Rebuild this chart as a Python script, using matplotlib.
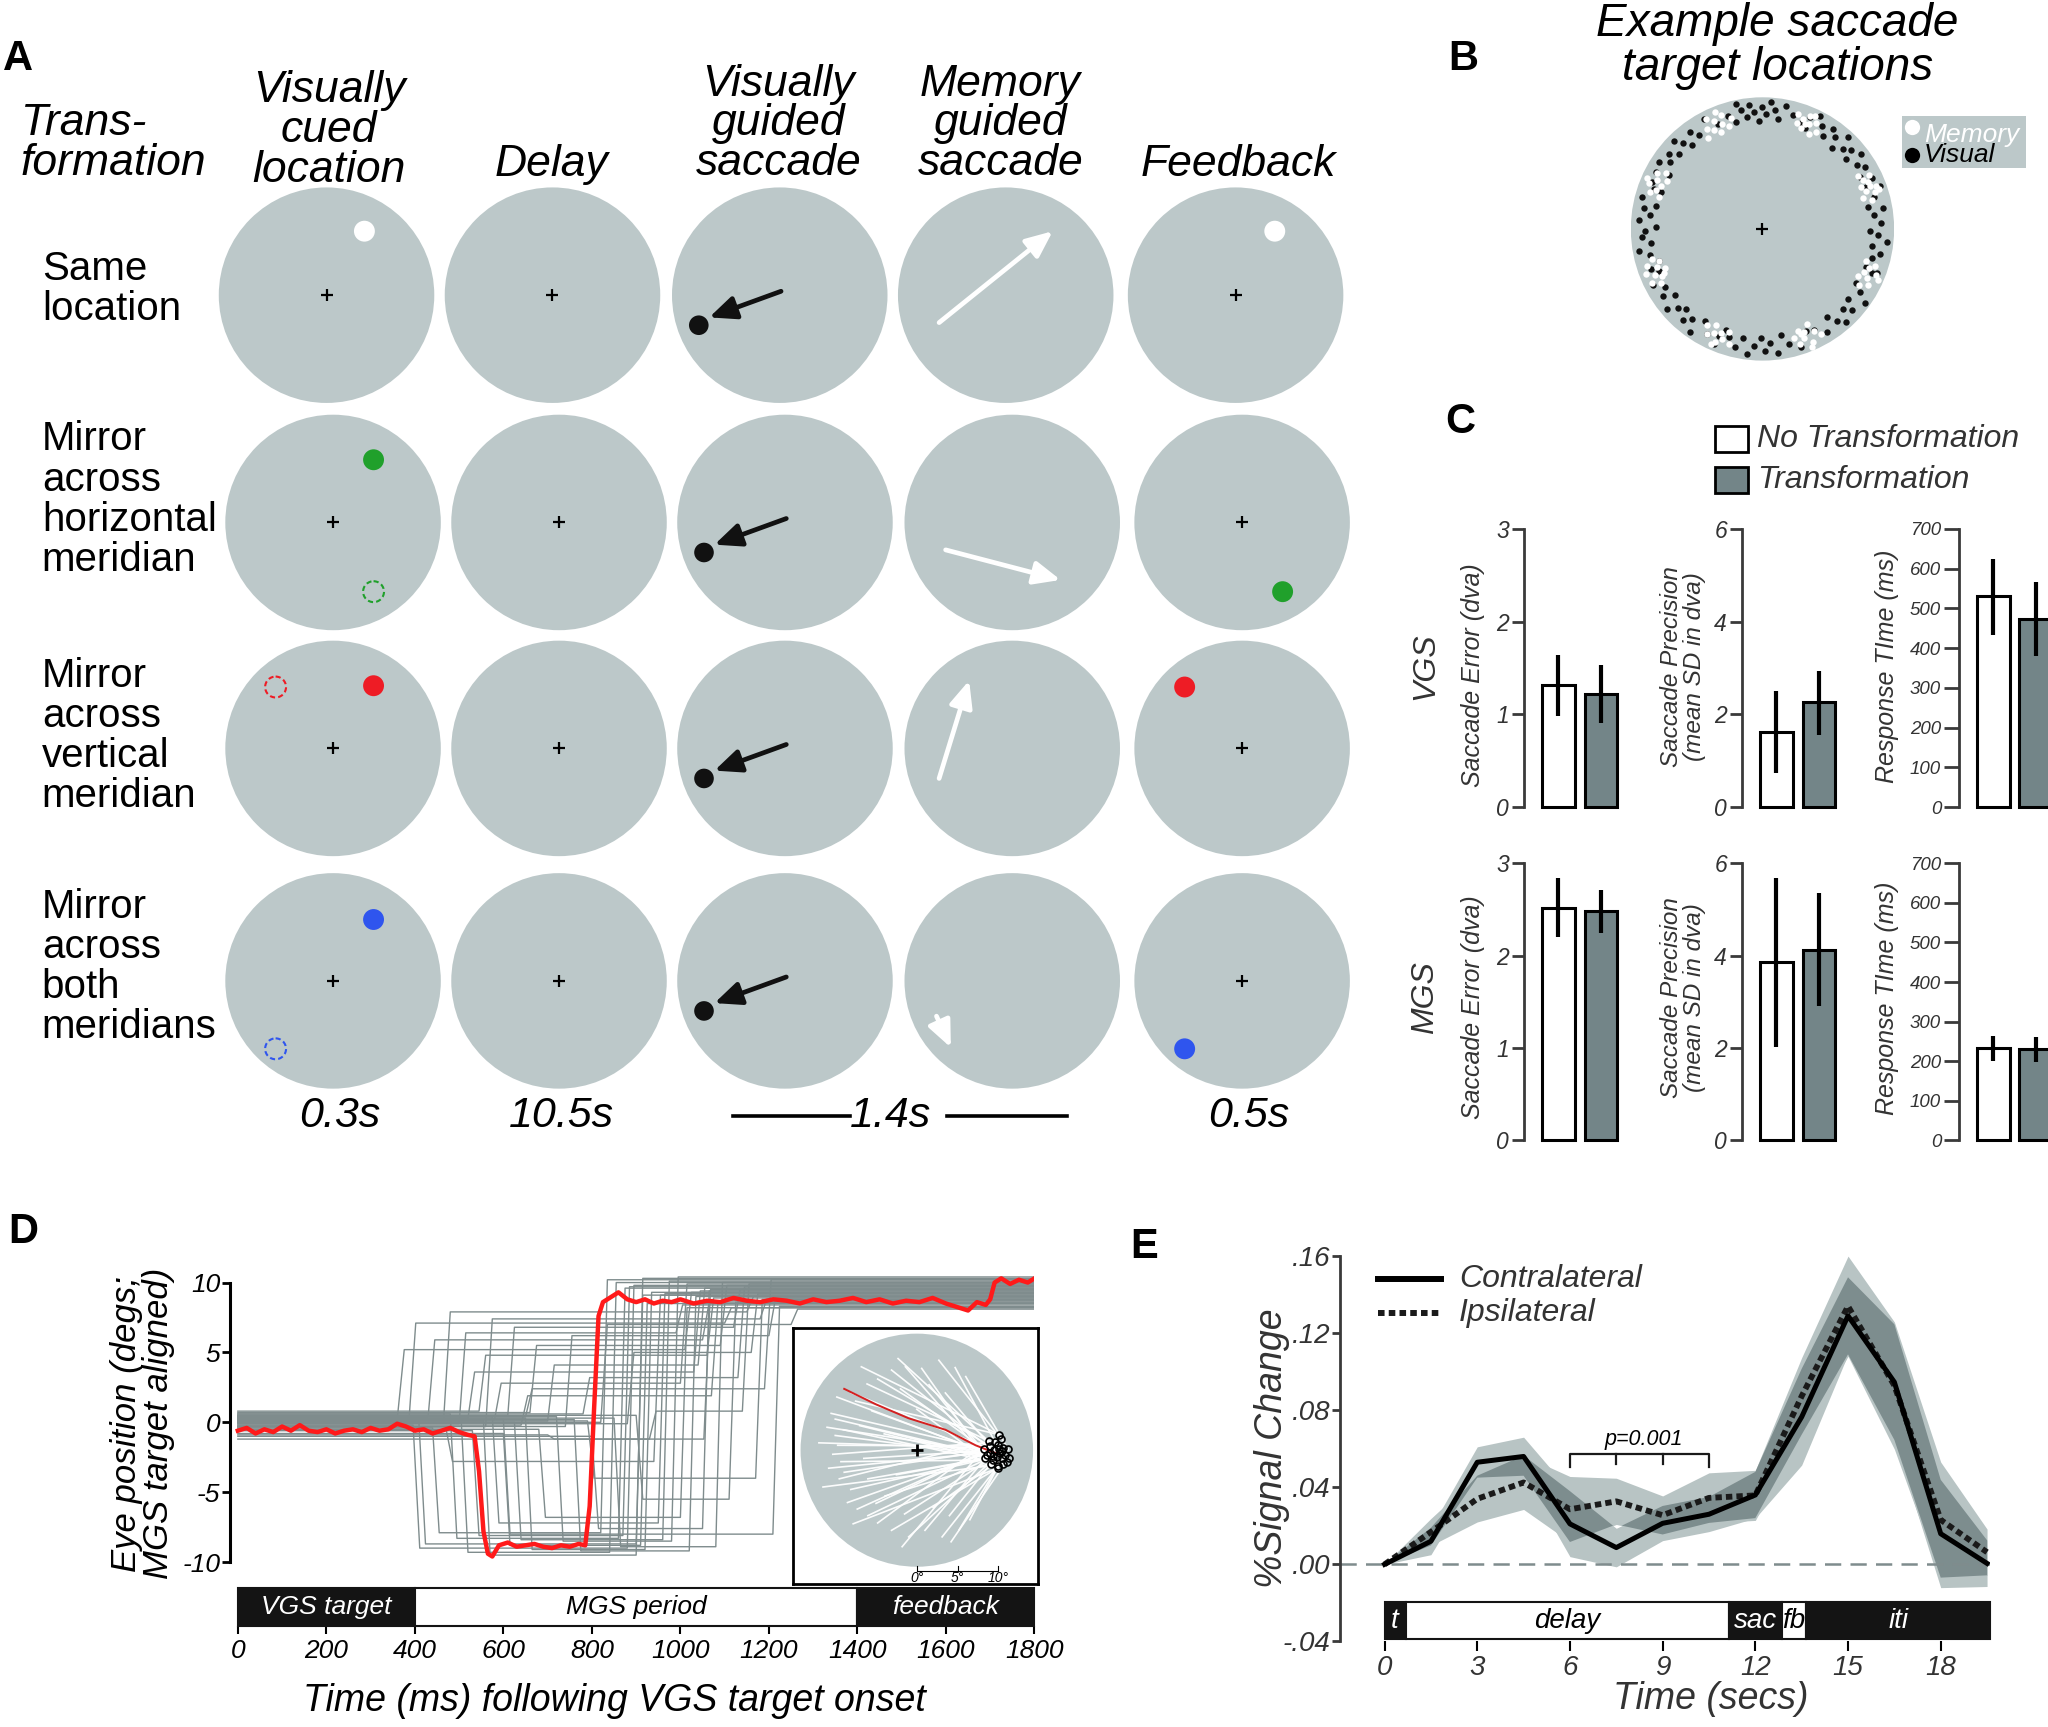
import numpy as np
import matplotlib
matplotlib.use('Agg')
import matplotlib.pyplot as plt
from matplotlib.patches import Circle, Rectangle

plt.rcParams['font.family'] = ['Liberation Sans', 'DejaVu Sans']

# ---------------- panel C values (no transformation, transformation) ----------------
vgs_error = [1.32, 1.22]
vgs_error_lo = [0.98, 0.91]
vgs_error_hi = [1.64, 1.53]
vgs_prec = [1.63, 2.26]
vgs_prec_lo = [0.74, 1.55]
vgs_prec_hi = [2.51, 2.93]
vgs_rt = [531, 473]
vgs_rt_lo = [434, 380]
vgs_rt_hi = [625, 566]
mgs_error = [2.52, 2.48]
mgs_error_lo = [2.20, 2.25]
mgs_error_hi = [2.84, 2.71]
mgs_prec = [3.86, 4.13]
mgs_prec_lo = [2.02, 2.90]
mgs_prec_hi = [5.69, 5.36]
mgs_rt = [233, 230]
mgs_rt_lo = [201, 198]
mgs_rt_hi = [263, 262]

# ---------------- panel D traces ----------------
# gray trials: baseline, first saccade (time, level), corrective saccade (time, level)
trial_base = [0.3, 0.5, -0.2, 0.1, 0.4, -0.4, 0.2, 0.6, -0.1, 0.0, 0.3, -0.6, 0.8, 0.1, -0.3, 0.4, 0.2, -0.8, 0.5, 0.0,
              -0.2, 0.3, 0.7, -0.5, 0.1, 0.4, -0.3, 0.2, 0.6, -1.0, 0.0, 0.3, -0.1, 0.5, -1.2, 0.2, -0.9, 0.4, 0.1, -0.4]
trial_t1 = [387, 361, 396, 409, 430, 440, 465, 480, 500, 505, 520, 530, 545, 555, 560, 575, 580, 600, 610, 625,
            640, 650, 660, 680, 700, 720, 740, 760, 780, 800, 820, 850, 880, 900, 930, 600, 700, 650, 790, 470]
trial_y1 = [7.1, 5.2, -9.0, -8.7, 5.9, -7.9, 7.9, -8.3, 6.4, -9.3, 3.6, -8.1, 4.8, -9.5, 7.4, -7.2, 2.8, -8.8, 6.8, -8.4,
            1.9, -9.1, 5.5, -6.8, 4.1, -8.5, 6.2, -9.2, 3.2, -7.6, 7.0, -8.9, 5.0, -5.5, 0.8, -8.0, -1.2, 2.4, -4.0, -2.8]
trial_t2 = [1100, 1010, 880, 900, 1050, 820, 1150, 860, 990, 840, 1030, 870, 1060, 900, 1180, 950, 1000, 910, 1120, 960,
            1070, 920, 1090, 1000, 1040, 980, 1200, 1020, 1130, 1050, 1250, 1080, 1160, 1110, 1140, 1209, 1053, 1190, 1170, 940]
trial_y2 = [8.2, 9.3, 9.8, 9.1, 8.6, 10.2, 9.0, 9.6, 8.4, 10.0, 9.4, 9.7, 8.9, 10.3, 8.8, 9.2, 9.9, 8.5, 9.5, 10.1,
            8.7, 9.3, 9.8, 8.2, 9.6, 10.4, 8.9, 9.0, 9.7, 9.4, 8.1, 10.0, 9.2, 8.6, 9.9, 8.3, 9.5, 10.2, 8.8, 9.1]

# highlighted (red) trial
red_t = [0, 20, 40, 60, 80, 100, 120, 140, 160, 180,
         200, 220, 240, 260, 280, 300, 320, 340, 360, 380,
         400, 420, 440, 460, 480, 500, 520, 535, 545, 555,
         565, 575, 590, 610, 630, 650, 670, 690, 710, 730,
         750, 770, 785, 795, 805, 815, 825, 840, 860, 880,
         900, 920, 940, 960, 980, 1000, 1030, 1060, 1090, 1120,
         1150, 1180, 1210, 1240, 1270, 1300, 1330, 1360, 1390, 1420,
         1450, 1480, 1510, 1540, 1570, 1600, 1630, 1650, 1670, 1690,
         1700, 1710, 1725, 1745, 1765, 1785, 1800]
red_y = [-0.6, -0.4, -0.8, -0.5, -0.7, -0.3, -0.6, -0.2, -0.6, -0.7,
         -0.5, -0.8, -0.6, -0.5, -0.7, -0.4, -0.6, -0.5, -0.1, -0.3,
         -0.6, -0.5, -0.8, -0.6, -0.4, -0.7, -0.9, -1.0, -3.5, -7.8,
         -9.4, -9.6, -8.8, -8.6, -8.9, -8.8, -8.7, -8.9, -9.0, -8.8,
         -8.9, -8.7, -8.8, -6.0, 1.0, 7.6, 8.6, 8.9, 9.3, 8.8,
         8.6, 8.8, 8.5, 8.7, 8.6, 8.8, 8.5, 8.7, 8.6, 8.9,
         8.7, 8.6, 8.8, 8.7, 8.5, 8.8, 8.6, 8.7, 8.9, 8.6,
         8.8, 8.5, 8.7, 8.6, 8.9, 8.5, 8.2, 8.0, 8.6, 8.4,
         8.8, 10.0, 10.3, 9.9, 10.2, 10.0, 10.3]

# inset: saccade start points and endpoints (deg)
traj_start = [(-10.5, 4.5), (-10.0, 3.8), (-9.7, 0.6), (-9.3, -1.4), (-8.9, -2.7), (-8.1, -4.8), (-7.3, -7.2),
              (-6.0, -8.0), (-5.5, 4.8), (-6.1, 8.1), (-4.8, 8.7), (-3.1, 9.8), (-1.4, 10.2), (0.6, 10.0),
              (2.7, 11.0), (4.7, 10.1), (5.2, -9.7), (3.1, -10.6), (1.0, -9.8), (-1.0, -10.6), (-3.1, -9.8),
              (-4.8, -8.9), (-3.9, -5.6), (-8.5, -6.4), (-10.0, 1.8), (-9.0, 2.5), (-7.5, 6.0), (-2.0, 7.5),
              (1.5, 8.0), (3.5, 7.0), (-4.0, 2.0), (-6.5, -1.0), (-2.5, -3.0), (-5.0, -6.5), (-1.5, -7.8),
              (2.0, -7.0), (4.0, -8.0), (-8.0, 7.0), (-7.0, 3.0), (0.0, 5.0), (-6.0, -3.5), (-9.5, -3.5),
              (-10.3, -0.5), (6.0, 9.0), (6.5, -8.5), (-11.0, 2.8), (-10.8, -2.2), (-7.8, -9.0), (-2.3, 11.2),
              (4.2, -11.2), (-12.0, 0.9), (-9.8, 6.5), (-11.5, -4.5), (-6.8, 10.2), (-1.8, -11.8)]
traj_end = [(8.2, 0.2), (8.6, -0.6), (9.0, 0.5), (9.3, -1.2), (9.5, 0.0), (9.8, -0.8), (10.0, 0.6), (10.2, -0.3),
            (10.4, -1.0), (10.6, 0.3), (10.8, -0.6), (11.0, -1.4), (9.1, -1.7), (8.4, -1.0), (10.3, 1.4),
            (9.6, 1.0), (11.2, 0.1), (10.0, -1.9), (9.0, -0.3), (10.5, -0.1), (9.9, -2.2), (8.8, 1.1),
            (11.3, -0.9), (10.1, 0.2), (9.4, -0.7), (10.6, -1.7), (10.1, 1.9)]
red_path_x = [-8.9, -5.0, -1.0, 3.5, 7.2, 10.0]
red_path_y = [7.5, 5.6, 3.9, 2.5, 0.6, -0.5]

# ---------------- panel E ----------------
e_time = [0, 1.5, 3, 4.5, 6, 7.5, 9, 10.5, 12, 13.5, 15, 16.5, 18, 19.5]
contra = [0.0, 0.012, 0.053, 0.056, 0.021, 0.0087, 0.0213, 0.026, 0.036, 0.0765, 0.129, 0.0946, 0.0159, 0.0005]
contra_se = [0.0, 0.007, 0.008, 0.010, 0.017, 0.010, 0.009, 0.009, 0.012, 0.025, 0.020, 0.030, 0.028, 0.012]
ipsi = [0.0, 0.0168, 0.034, 0.0425, 0.0286, 0.0327, 0.0255, 0.0345, 0.0358, 0.0873, 0.134, 0.0928, 0.0231, 0.0063]
ipsi_se = [0.0, 0.007, 0.012, 0.014, 0.017, 0.012, 0.010, 0.013, 0.013, 0.020, 0.026, 0.033, 0.030, 0.012]

d_phase = ['VGS target', 'MGS period', 'feedback']
d_edges = [0, 400, 1400, 1800]
e_phase = ['t', 'delay', 'sac', 'fb', 'iti']
e_edges = [0, 0.68, 11.15, 12.85, 13.65, 19.6]

# ---------------- panel B target locations (angle deg, radius fraction) ----------------
memory_pts = [(15, .86), (17, .80), (18, .90), (20, .84), (21, .92), (23, .81), (24, .88), (26, .85), (27, .91), (29, .83), (22, .88), (19, .94),
              (61, .84), (63, .90), (64, .80), (66, .87), (67, .93), (69, .82), (70, .89), (72, .85), (73, .91), (65, .95), (68, .86),
              (106, .88), (108, .82), (110, .92), (111, .85), (113, .80), (114, .90), (116, .84), (117, .94), (119, .87), (121, .81), (112, .96),
              (150, .85), (152, .91), (153, .81), (155, .88), (157, .84), (158, .93), (160, .86), (162, .90), (163, .82), (156, .96),
              (195, .87), (197, .82), (198, .92), (200, .85), (202, .80), (203, .89), (205, .84), (206, .93), (208, .87), (201, .95), (204, .82),
              (240, .84), (242, .90), (244, .81), (245, .87), (247, .93), (248, .85), (250, .89), (252, .82), (254, .91), (246, .96),
              (286, .86), (288, .92), (289, .82), (291, .89), (292, .84), (294, .94), (295, .80), (297, .87), (299, .91), (293, .97), (290, .85),
              (330, .85), (332, .91), (334, .81), (335, .88), (337, .84), (338, .93), (340, .86), (342, .90), (343, .82), (336, .96)]
visual_pts = [(3, .90), (7, .85), (10, .93), (12, .82), (16, .88), (20, .95), (28, .84), (31, .91), (34, .87), (37, .94),
              (40, .83), (42, .90), (45, .86), (47, .95), (49, .81), (52, .89), (55, .93), (57, .84), (60, .90), (63, .96),
              (67, .92), (70, .86), (75, .90), (79, .95), (82, .84), (84, .91), (86, .97), (88, .87), (90, .93), (92, .82),
              (94, .89), (96, .95), (98, .86), (100, .92), (102, .97), (104, .84), (107, .90), (118, .95), (124, .86), (127, .92),
              (130, .83), (133, .89), (135, .95), (138, .85), (141, .91), (144, .87), (147, .94), (150, .82), (152, .92), (160, .88),
              (165, .95), (168, .83), (170, .91), (173, .86), (176, .94), (179, .81), (181, .89), (184, .92), (187, .85), (190, .95),
              (193, .88), (197, .82), (207, .93), (211, .86), (214, .91), (217, .83), (220, .95), (223, .88), (226, .84), (229, .92),
              (232, .87), (235, .96), (238, .82), (242, .90), (247, .95), (253, .86), (257, .92), (260, .84), (263, .96), (266, .89),
              (269, .83), (271, .93), (274, .87), (277, .95), (280, .82), (283, .90), (288, .94), (297, .86), (302, .92), (306, .83),
              (309, .90), (312, .95), (315, .86), (318, .92), (321, .84), (324, .96), (327, .88), (330, .82), (339, .93), (345, .86),
              (348, .91), (351, .84), (354, .95), (357, .88), (359, .82), (22, .85), (67, .83), (113, .87), (157, .91), (202, .85),
              (248, .88), (293, .84), (338, .90), (25, .92), (200, .90), (160, .82), (340, .84), (250, .82)]

# ---------------- layout helpers ----------------
circ_col = '#bcc8c9'
bar_gray = '#738588'
trace_gray = '#7f8c8d'
text_gray = '#333333'

W0 = 1568.0
H0 = W0 * 1727 / 2048


def box(x0, y0, x1, y1):
    return [x0 / W0, 1 - y1 / H0, (x1 - x0) / W0, (y1 - y0) / H0]


fig = plt.figure(figsize=(20.48, 17.27), dpi=100)
base = fig.add_axes([0, 0, 1, 1])
base.set_xlim(0, W0)
base.set_ylim(H0, 0)
base.axis('off')


def btext(x, y, s, size, style='italic', **kw):
    kw.setdefault('ha', 'center')
    kw.setdefault('va', 'center')
    base.text(x, y, s, fontsize=size, fontstyle=style, **kw)


# panel letters
for lab, x, y in [('A', 14, 45), ('B', 1120, 45), ('C', 1118, 323), ('D', 18, 943), ('E', 876, 955)]:
    btext(x, y, lab, 30, style='normal', fontweight='bold')

# ================= panel A =================
# each header is one multi-line text; y is the baseline of its last line
heads = [(16, 'Trans-\nformation', 134, 'left'),
         (252, 'Visually\ncued\nlocation', 139, 'center'),
         (422, 'Delay', 135, 'center'),
         (596, 'Visually\nguided\nsaccade', 134, 'center'),
         (766, 'Memory\nguided\nsaccade', 134, 'center'),
         (948, 'Feedback', 135, 'center')]
for x, s, y, ha in heads:
    btext(x, y, s, 32, ha=ha, va='baseline', multialignment=ha, linespacing=0.96)

row_labels = [('Same\nlocation', 245),
              ('Mirror\nacross\nhorizontal\nmeridian', 437),
              ('Mirror\nacross\nvertical\nmeridian', 618),
              ('Mirror\nacross\nboth\nmeridians', 795)]
for s, y in row_labels:
    btext(32, y, s, 29, style='normal', ha='left', va='baseline', linespacing=1.07)

a_row_y = [226, 400, 573, 751]
a_col_x = [[250, 423, 597, 770, 946], [255, 428, 601, 775, 951],
           [255, 428, 601, 775, 951], [255, 428, 601, 775, 951]]
cue_color = ['white', '#20a02b', '#ee1c25', '#2f55ee']
cue_dx = [29, 31, 31, 31]
cue_dy = [-49, -48, -48, -47]
mirror_dx = [None, 31, -44, -44]
mirror_dy = [None, 53, -47, 52]
fb_dx = [30, 31, -44, -44]
fb_dy = [-49, 53, -47, 52]
mgs_tail = [(-51, 21), (-51, 21), (-56, 23), (-58, 27)]
mgs_head = [(36, -49), (37, 44), (-33, -52), (-47, 51)]

for r in range(4):
    cy = a_row_y[r]
    xs = a_col_x[r]
    for c in range(5):
        base.add_patch(Circle((xs[c], cy), 82.5, color=circ_col, lw=0))
    for c in (0, 1, 4):
        base.plot(xs[c], cy, marker='+', ms=8, mew=1.6, color='black')
    # cue
    base.add_patch(Circle((xs[0] + cue_dx[r], cy + cue_dy[r]), 8, color=cue_color[r], lw=0))
    if mirror_dx[r] is not None:
        base.add_patch(Circle((xs[0] + mirror_dx[r], cy + mirror_dy[r]), 8, fill=False,
                              ec=cue_color[r], lw=1.5, ls=(0, (2.5, 1.5))))
    # visually guided saccade
    base.add_patch(Circle((xs[2] - 62, cy + 23), 7.5, color='#111111', lw=0))
    base.annotate('', xy=(xs[2] - 54, cy + 17), xytext=(xs[2] + 1, cy - 3),
                  arrowprops=dict(arrowstyle='-|>,head_length=0.8,head_width=0.35', color='#111111',
                                  lw=3.4, shrinkA=0, shrinkB=0, mutation_scale=20))
    # memory guided saccade
    tx, ty = mgs_tail[r]
    hx, hy = mgs_head[r]
    base.annotate('', xy=(xs[3] + hx, cy + hy), xytext=(xs[3] + tx, cy + ty),
                  arrowprops=dict(arrowstyle='-|>,head_length=0.8,head_width=0.35', color='white',
                                  lw=3.4, shrinkA=0, shrinkB=0, mutation_scale=20))
    # feedback
    base.add_patch(Circle((xs[4] + fb_dx[r], cy + fb_dy[r]), 8, color=cue_color[r], lw=0))

for x, s in [(260, '0.3s'), (430, '10.5s'), (682, '1.4s'), (956, '0.5s')]:
    btext(x, 863, s, 31, va='baseline')
base.plot([561, 651], [854.5, 854.5], color='black', lw=2.6)
base.plot([725, 817], [854.5, 854.5], color='black', lw=2.6)

# ================= panel B =================
btext(1361, 61, 'Example saccade\ntarget locations', 33, va='baseline', linespacing=1.0)
b_cx, b_cy, b_R = 1349.4, 175.3, 100.8
ax_b = fig.add_axes(box(b_cx - b_R, b_cy - b_R, b_cx + b_R, b_cy + b_R))
ax_b.set_xlim(-1, 1)
ax_b.set_ylim(-1, 1)
ax_b.axis('off')
ax_b.add_patch(Circle((0, 0), 1, color=circ_col, lw=0))
for pts, col in [(visual_pts, '#111111'), (memory_pts, 'white')]:
    ang = np.radians([p[0] for p in pts])
    rad = np.array([p[1] for p in pts])
    ax_b.plot(rad * np.cos(ang), rad * np.sin(ang), 'o', ms=4.6, mew=0, color=col)
ax_b.plot(0, 0, marker='+', ms=8, mew=1.6, color='black')

base.add_patch(Rectangle((1456, 88.6), 95, 39.8, color=circ_col, lw=0))
base.plot(1464, 97.5, 'o', ms=11, mew=0, color='white')
base.plot(1463.5, 118.5, 'o', ms=11, mew=0, color='black')
btext(1473, 108.5, 'Memory', 19, ha='left', va='baseline', color='white')
btext(1473, 124, 'Visual', 19, ha='left', va='baseline', color='black')

# ================= panel C =================
base.add_patch(Rectangle((1313, 326), 25, 20, fc='white', ec='black', lw=2))
base.add_patch(Rectangle((1313, 357.5), 25, 20, fc=bar_gray, ec='black', lw=2))
btext(1345, 336, 'No Transformation', 23, ha='left', color=text_gray)
btext(1345, 367.5, 'Transformation', 23, ha='left', color=text_gray)
btext(1091, 510, 'VGS', 23, rotation=90, color=text_gray)
btext(1091, 764, 'MGS', 23, rotation=90, color=text_gray)

c_spine_x = [1167, 1334, 1500]
c_rows = [(405, 618), (661, 873)]
c_ymax = [3, 6, 700]
c_ticks = [[0, 1, 2, 3], [0, 2, 4, 6], [0, 100, 200, 300, 400, 500, 600, 700]]
c_tick_size = [16.5, 16.5, 13.5]
c_data = [[(vgs_error, vgs_error_lo, vgs_error_hi), (vgs_prec, vgs_prec_lo, vgs_prec_hi), (vgs_rt, vgs_rt_lo, vgs_rt_hi)],
          [(mgs_error, mgs_error_lo, mgs_error_hi), (mgs_prec, mgs_prec_lo, mgs_prec_hi), (mgs_rt, mgs_rt_lo, mgs_rt_hi)]]
for ri, (top, bot) in enumerate(c_rows):
    for ci, sx in enumerate(c_spine_x):
        mean, lo, hi = c_data[ri][ci]
        ax = fig.add_axes(box(sx, top, sx + 75, bot))
        ax.patch.set_visible(False)
        ax.set_xlim(-0.8, 1.5)
        ax.set_ylim(0, c_ymax[ci])
        bars = ax.bar([0, 1], mean, width=0.77, color=['white', bar_gray], edgecolor='black', lw=2.2)
        for b in bars:
            b.set_clip_on(False)
        ax.vlines([0, 1], lo, hi, color='black', lw=3)
        for s in ('top', 'right', 'bottom'):
            ax.spines[s].set_visible(False)
        ax.spines['left'].set_color('#3a3a3a')
        ax.spines['left'].set_linewidth(2)
        ax.set_xticks([])
        ax.set_yticks(c_ticks[ci])
        ax.set_yticklabels([str(t) for t in c_ticks[ci]], fontsize=c_tick_size[ci], fontstyle='italic',
                           color=text_gray)
        ax.tick_params(axis='y', length=9 if ci < 2 else 11, width=2, color='#3a3a3a', pad=2)

    yc = 517 if ri == 0 else 771
    yc2 = 510 if ri == 0 else 764
    btext(1128, yc, 'Saccade Error (dva)', 18, rotation=90, color=text_gray)
    btext(1288.5, yc2, 'Saccade Precision\n(mean SD in dva)', 17.5, rotation=90, color=text_gray,
          linespacing=1.0)
    btext(1445, yc2, 'Response TIme (ms)', 18, rotation=90, color=text_gray)

# ================= panel D =================
ax_d = fig.add_axes(box(176, 955.2, 792, 1245.2))
ax_d.patch.set_visible(False)
ax_d.set_xlim(-18, 1800)
ax_d.set_ylim(-14.6, 12.5)
for i in range(len(trial_base)):
    t1, t2 = trial_t1[i], trial_t2[i]
    ax_d.plot([0, t1, t1 + 15, t2, t2 + 15, 1800],
              [trial_base[i], trial_base[i], trial_y1[i], trial_y1[i], trial_y2[i], trial_y2[i]],
              color=trace_gray, lw=1.0, zorder=2)
ax_d.plot(red_t, red_y, color='#ff1a1a', lw=3.2, zorder=3)
for i, name in enumerate(d_phase):
    x0, x1 = d_edges[i], d_edges[i + 1]
    dark = i != 1
    ax_d.add_patch(Rectangle((x0, -14.55), x1 - x0, 2.7, fc='#141414' if dark else 'white',
                             ec='#141414', lw=1.5, clip_on=False, zorder=4))
    ax_d.text((x0 + x1) / 2, -13.2, name, fontsize=19, fontstyle='italic', ha='center', va='center',
              color='white' if dark else 'black', zorder=5)
for s in ('top', 'right', 'bottom'):
    ax_d.spines[s].set_visible(False)
ax_d.spines['left'].set_bounds(-10, 10)
ax_d.spines['left'].set_linewidth(2.2)
ax_d.set_yticks([-10, -5, 0, 5, 10])
ax_d.set_yticklabels(['-10', '-5', '0', '5', '10'], fontsize=19, fontstyle='italic')
ax_d.set_xticks(range(0, 1801, 200))
ax_d.set_xticklabels([str(t) for t in range(0, 1801, 200)], fontsize=19, fontstyle='italic')
ax_d.tick_params(axis='y', length=6, width=2, pad=1)
ax_d.tick_params(axis='x', length=6, width=1.5, pad=3)
btext(109, 1090, 'Eye position (degs;\nMGS target aligned)', 25, rotation=90, linespacing=0.95)
btext(470, 1302, 'Time (ms) following VGS target onset', 27)

# inset
ax_in = fig.add_axes(box(607, 1017, 795, 1213))
ax_in.set_xlim(-15.2, 14.9)
ax_in.set_ylim(-16.4, 14.9)
ax_in.set_xticks([])
ax_in.set_yticks([])
for s in ax_in.spines.values():
    s.set_linewidth(2)
ax_in.add_patch(Circle((0, 0), 14.25, color=circ_col, lw=0))
for i, (sx, sy) in enumerate(traj_start):
    ex, ey = traj_end[i % len(traj_end)]
    ax_in.plot([sx, ex], [sy, ey], color='white', lw=1.2, alpha=0.95)
ax_in.plot(red_path_x, red_path_y, color='#d42020', lw=1.4)
ax_in.plot([p[0] for p in traj_end], [p[1] for p in traj_end], 'o', ms=5, mfc='none', mec='black', mew=1.2)
ax_in.plot(0, 0, marker='+', ms=9, mew=2, color='black')
ax_in.plot([0, 10], [-14.75, -14.75], color='black', lw=0.8)
for t, s in [(0, '0°'), (5, '5°'), (10, '10°')]:
    ax_in.plot([t, t], [-14.75, -14.2], color='black', lw=0.8)
    ax_in.text(t, -15.6, s, fontsize=10, fontstyle='italic', ha='center', va='center')

# ================= panel E =================
ax_e = fig.add_axes(box(1026, 961.7, 1523.7, 1256.7))
ax_e.patch.set_visible(False)
ax_e.set_xlim(-1.44, 19.6)
ax_e.set_ylim(-0.04, 0.16)
t = np.array(e_time)
c_lo = np.array(contra) - np.array(contra_se)
c_hi = np.array(contra) + np.array(contra_se)
i_lo = np.array(ipsi) - np.array(ipsi_se)
i_hi = np.array(ipsi) + np.array(ipsi_se)
ax_e.fill_between(t, c_lo, c_hi, color='#b8c4c4', lw=0, zorder=1)
ax_e.fill_between(t, i_lo, i_hi, color='#b8c4c4', lw=0, zorder=1)
ov_lo = np.maximum(c_lo, i_lo)
ov_hi = np.minimum(c_hi, i_hi)
ax_e.fill_between(t, ov_lo, ov_hi, where=ov_hi > ov_lo, interpolate=True, color='#7d8d8e', lw=0, zorder=1.5)
ax_e.plot([-1.44, 19.6], [0, 0], color=trace_gray, lw=1.8, dashes=(6.5, 3.7), zorder=2)
ax_e.plot(t, contra, color='black', lw=3.6, zorder=4)
ax_e.plot(t, ipsi, color='#1a1a1a', lw=4.2, dashes=(1.1, 0.7), zorder=3)
for i, name in enumerate(e_phase):
    x0, x1 = e_edges[i], e_edges[i + 1]
    dark = i in (0, 2, 4)
    ax_e.add_patch(Rectangle((x0, -0.0389), x1 - x0, 0.0192, fc='#141414' if dark else 'white',
                             ec='#141414', lw=1.5, clip_on=False, zorder=5))
    ax_e.text((x0 + x1) / 2, -0.0293, name, fontsize=20, fontstyle='italic', ha='center', va='center',
              color='white' if dark else 'black', zorder=6)
# significance bracket
ax_e.plot([6, 6, 10.5, 10.5], [0.0503, 0.0575, 0.0575, 0.0503], color='#1a1a1a', lw=1.6)
ax_e.plot([7.5, 7.5], [0.0575, 0.0520], color='#1a1a1a', lw=1.6)
ax_e.plot([9, 9], [0.0575, 0.0520], color='#1a1a1a', lw=1.6)
ax_e.text(8.4, 0.0647, 'p=0.001', fontsize=15.5, fontstyle='italic', ha='center', va='center')
for s in ('top', 'right', 'bottom'):
    ax_e.spines[s].set_visible(False)
ax_e.spines['left'].set_linewidth(2)
ax_e.spines['left'].set_color('#3a3a3a')
ax_e.set_yticks([-0.04, 0, 0.04, 0.08, 0.12, 0.16])
ax_e.set_yticklabels(['-.04', '.00', '.04', '.08', '.12', '.16'], fontsize=20, fontstyle='italic', color=text_gray)
ax_e.set_xticks([0, 3, 6, 9, 12, 15, 18])
ax_e.set_xticklabels(['0', '3', '6', '9', '12', '15', '18'], fontsize=20, fontstyle='italic', color=text_gray)
ax_e.tick_params(axis='y', length=6, width=2, color='#3a3a3a', pad=1)
ax_e.tick_params(axis='x', length=7, width=1.5, pad=3)
btext(974, 1109, '%Signal Change', 27, rotation=90, color=text_gray)
btext(1310, 1301, 'Time (secs)', 27, color=text_gray)
# legend
base.plot([1055, 1103], [979, 979], color='black', lw=4.3)
base.plot([1055, 1103], [1005, 1005], color='#1a1a1a', lw=4.3, dashes=(1.1, 0.7))
btext(1117, 979, 'Contralateral', 23, ha='left', color=text_gray)
btext(1117, 1005, 'Ipsilateral', 23, ha='left', color=text_gray)

fig.savefig('out.png', dpi=100)
